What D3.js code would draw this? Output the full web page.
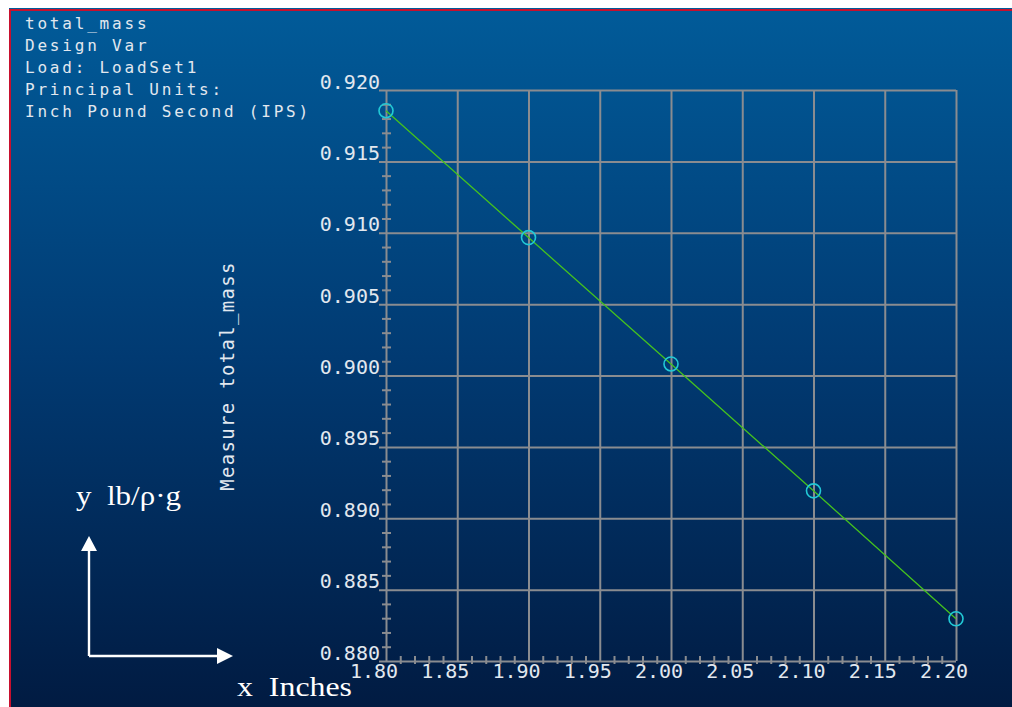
<!DOCTYPE html>
<html>
<head>
<meta charset="utf-8">
<script src="https://cdn.jsdelivr.net/npm/d3@7"></script>
<style>
  html, body { margin: 0; padding: 0; background: #ffffff; }
  svg { display: block; }
</style>
</head>
<body>
<svg id="chart" width="1012" height="707"></svg>
<script>
// Design-study result: total mass against the design variable
const titleLines = [
  "total_mass",
  "Design Var",
  "Load: LoadSet1",
  "Principal Units:",
  "Inch Pound Second (IPS)"
];
const xTicks = [1.80, 1.85, 1.90, 1.95, 2.00, 2.05, 2.10, 2.15, 2.20];
const xTickLabels = ["1.80", "1.85", "1.90", "1.95", "2.00", "2.05", "2.10", "2.15", "2.20"];
const yTicks = [0.880, 0.885, 0.890, 0.895, 0.900, 0.905, 0.910, 0.915, 0.920];
const yTickLabels = ["0.880", "0.885", "0.890", "0.895", "0.900", "0.905", "0.910", "0.915", "0.920"];
const designVar = [1.80, 1.90, 2.00, 2.10, 2.20];
const totalMass = [0.91855, 0.90966, 0.90081, 0.89192, 0.88296];
const yAxisTitle = "Measure total_mass";
const yUnitNote = "y  lb/\u03c1\u00b7g";
const xUnitNote = "x  Inches";

const svg = d3.select("#chart");
const W = 1012, H = 707;

// Background panel with gradient
const defs = svg.append("defs");
const grad = defs.append("linearGradient")
  .attr("id", "panelGrad").attr("x1", 0).attr("y1", 0).attr("x2", 0).attr("y2", 1);
grad.append("stop").attr("offset", "0%").attr("stop-color", "#015b99");
grad.append("stop").attr("offset", "50%").attr("stop-color", "#013a72");
grad.append("stop").attr("offset", "100%").attr("stop-color", "#011b42");

svg.append("rect").attr("x", 9).attr("y", 8).attr("width", W - 9).attr("height", H - 8)
  .attr("fill", "url(#panelGrad)");
svg.append("rect").attr("x", 9).attr("y", 9).attr("width", W - 9).attr("height", 2).attr("fill", "#c8102e");
svg.append("rect").attr("x", 9).attr("y", 9).attr("width", 2).attr("height", H - 9).attr("fill", "#c8102e");

// Plot area
const plotL = 386, plotR = 956, plotT = 90, plotB = 661;
const x = d3.scaleLinear().domain([1.80, 2.20]).range([plotL, plotR]);
const y = d3.scaleLinear().domain([0.880, 0.920]).range([plotB, plotT]);

const gridColor = "#8a8c90";
const monoFont = "'DejaVu Sans Mono', 'Liberation Mono', monospace";
const textColor = "#e2e8ef";

// Horizontal grid + y tick labels
const yAxis = d3.axisLeft(y)
  .tickValues(yTicks)
  .tickFormat((d, i) => yTickLabels[i])
  .tickSizeInner(-(plotR - plotL))
  .tickSizeOuter(0)
  .tickPadding(6);
const gy = svg.append("g").attr("transform", `translate(${plotL},0)`).call(yAxis);
gy.select(".domain").remove();
gy.selectAll(".tick line").attr("x1", -7).attr("stroke", gridColor).attr("stroke-width", 2);
gy.selectAll(".tick text")
  .attr("dy", 0).attr("y", -2)
  .attr("fill", textColor)
  .style("font-family", monoFont).style("font-size", "20px");

// Vertical grid + x tick labels
const xAxis = d3.axisBottom(x)
  .tickValues(xTicks)
  .tickFormat((d, i) => xTickLabels[i])
  .tickSizeInner(-(plotB - plotT))
  .tickSizeOuter(0)
  .tickPadding(3);
const gx = svg.append("g").attr("transform", `translate(0,${plotB})`).call(xAxis);
gx.select(".domain").remove();
gx.selectAll(".tick line").attr("stroke", gridColor).attr("stroke-width", 2);
gx.selectAll(".tick text")
  .attr("dx", -12.5)
  .attr("fill", textColor)
  .style("font-family", monoFont).style("font-size", "20px");

// Minor ticks on both axes
const yMinor = d3.range(0, 41).filter(k => k % 5 !== 0).map(k => 0.880 + k * 0.001);
const gym = svg.append("g").attr("transform", `translate(${plotL},0)`)
  .call(d3.axisLeft(y).tickValues(yMinor).tickSize(4).tickFormat(""));
gym.select(".domain").remove();
gym.selectAll(".tick line").attr("x1", 5).attr("stroke", gridColor).attr("stroke-width", 2);

const xMinor = d3.range(0, 41).filter(k => k % 5 !== 0).map(k => 1.80 + k * 0.01);
const gxm = svg.append("g").attr("transform", `translate(0,${plotB})`)
  .call(d3.axisBottom(x).tickValues(xMinor).tickSize(3).tickFormat(""));
gxm.select(".domain").remove();
gxm.selectAll(".tick line").attr("y1", -5).attr("stroke", gridColor).attr("stroke-width", 2);

// Data line and markers
const pts = designVar.map((d, i) => [d, totalMass[i]]);
svg.append("path")
  .datum(pts)
  .attr("fill", "none")
  .attr("stroke", "#45c21e")
  .attr("stroke-width", 1.3)
  .attr("d", d3.line().x(d => x(d[0])).y(d => y(d[1])));
svg.append("g").selectAll("circle")
  .data(pts).join("circle")
  .attr("cx", d => x(d[0])).attr("cy", d => y(d[1]))
  .attr("r", 7)
  .attr("fill", "none")
  .attr("stroke", "#22c9d6")
  .attr("stroke-width", 1.6);

// Header text
svg.append("g").selectAll("text")
  .data(titleLines).join("text")
  .attr("x", 25).attr("y", (d, i) => 29 + i * 22)
  .attr("fill", textColor)
  .style("font-family", monoFont).style("font-size", "16px")
  .style("letter-spacing", "2.8px")
  .text(d => d);

// Y axis title
svg.append("text")
  .attr("transform", "translate(234,376) rotate(-90)")
  .attr("text-anchor", "middle")
  .attr("fill", textColor)
  .style("font-family", monoFont).style("font-size", "19px")
  .style("letter-spacing", "1.3px")
  .text(yAxisTitle);

// Unit annotation with arrows
const serif = "'Liberation Serif', 'DejaVu Serif', serif";
svg.append("text")
  .attr("x", 76).attr("y", 505)
  .attr("fill", "#ffffff")
  .attr("textLength", 105).attr("lengthAdjust", "spacingAndGlyphs")
  .style("white-space", "pre")
  .style("font-family", serif).style("font-size", "27px")
  .text(yUnitNote);
svg.append("text")
  .attr("x", 237).attr("y", 696)
  .attr("fill", "#ffffff")
  .attr("textLength", 115).attr("lengthAdjust", "spacingAndGlyphs")
  .style("white-space", "pre")
  .style("font-family", serif).style("font-size", "27px")
  .text(xUnitNote);

const arrows = svg.append("g").attr("stroke", "#ffffff").attr("stroke-width", 2.4).attr("fill", "none");
arrows.append("path").attr("d", "M89,656 L89,548 M89,656 L220,656");
svg.append("path").attr("fill", "#ffffff")
  .attr("d", "M89,536 L81,551 L97,551 Z");
svg.append("path").attr("fill", "#ffffff")
  .attr("d", "M233,656 L217,648 L217,664 Z");
</script>
</body>
</html>
